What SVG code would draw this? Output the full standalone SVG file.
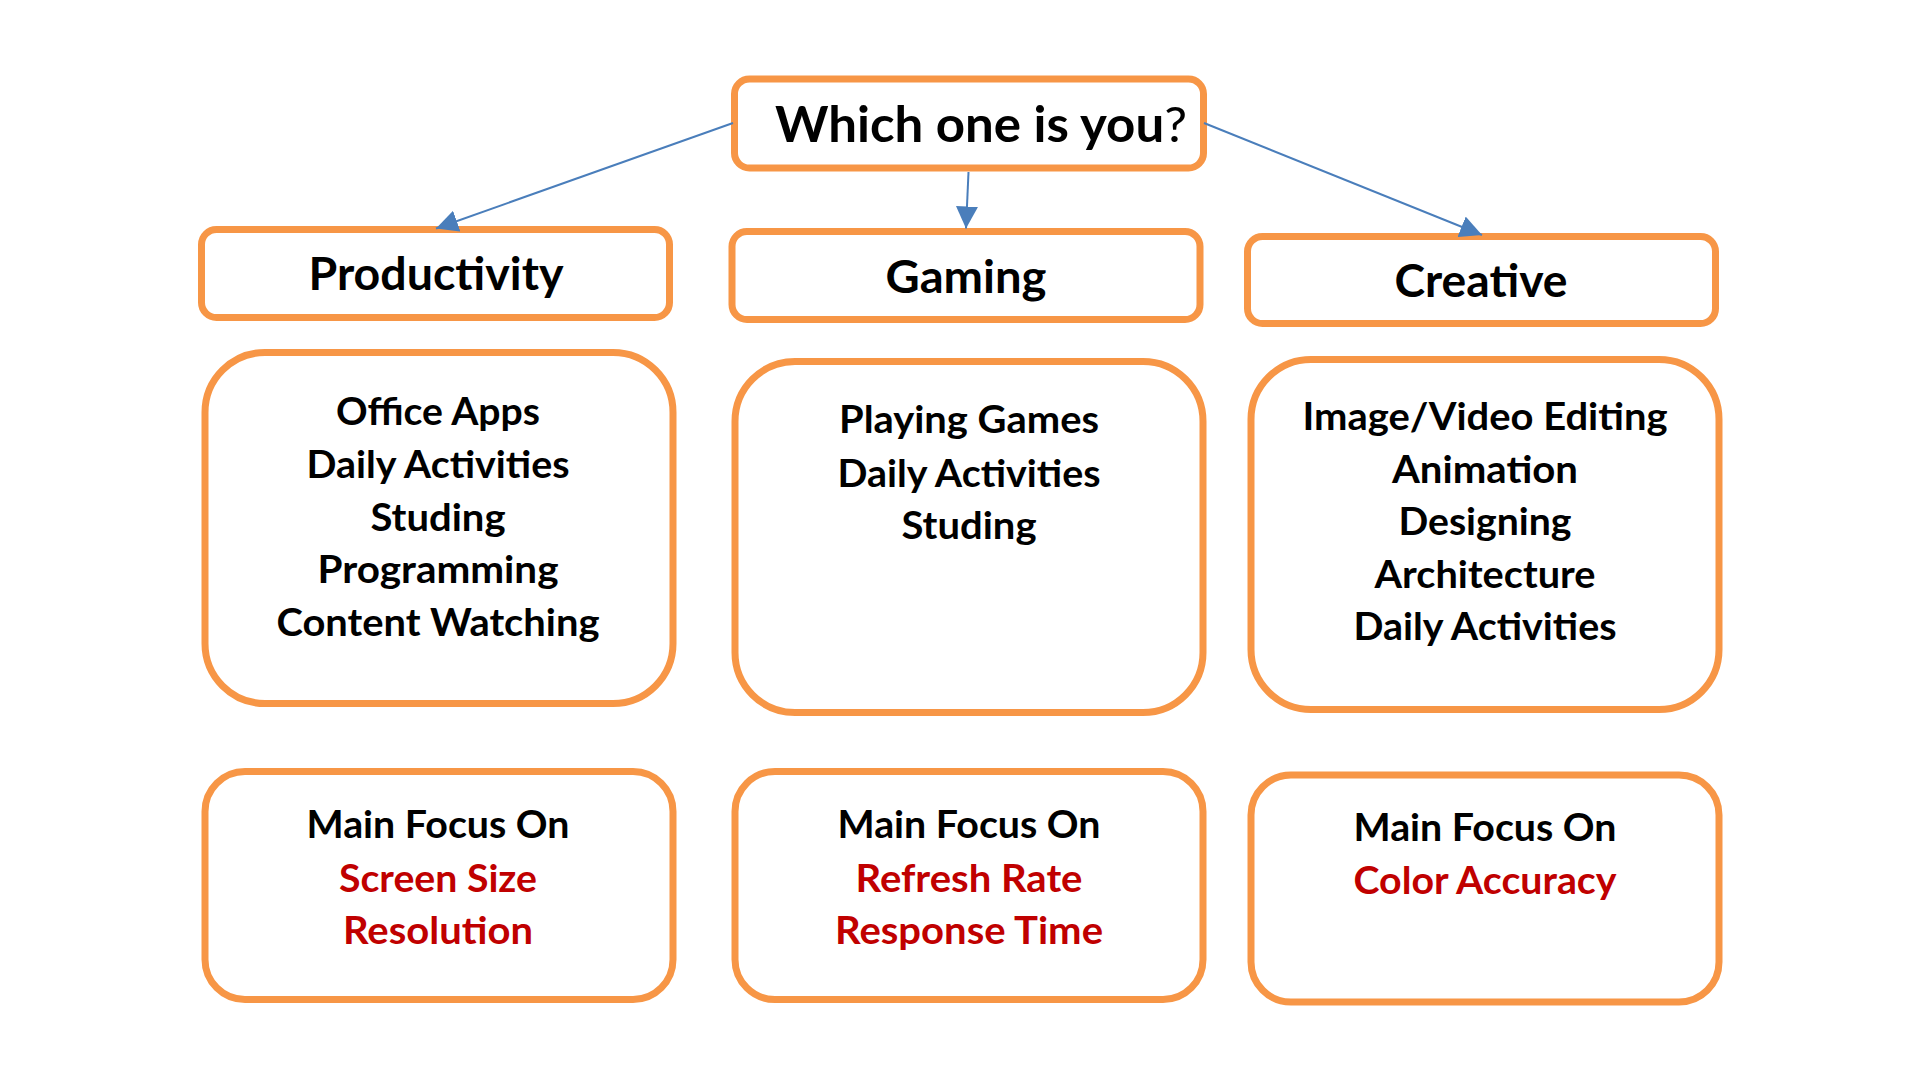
<svg xmlns="http://www.w3.org/2000/svg" width="1920" height="1080" viewBox="0 0 1920 1080">
  <defs>
    <style>
      .box { fill: #FFFFFF; stroke: #F79646; stroke-width: 7; }
      .t { font-family: Lato, "Open Sans", "Liberation Sans", sans-serif; font-weight: bold; fill: #000000; text-anchor: middle; }
      .top { font-size: 49px; }
      .hdr { font-size: 45px; }
      .body { font-size: 38px; }
      .red { fill: #C00000; }
      .conn { stroke: #4A7EBB; stroke-width: 2; fill: none; }
    </style>
    <marker id="arrow" markerUnits="userSpaceOnUse" viewBox="0 0 22 22" refX="22" refY="11" markerWidth="22" markerHeight="22" orient="auto">
      <path d="M0,0 L22,11 L0,22 z" fill="#4A7EBB"/>
    </marker>
  </defs>
  <rect width="1920" height="1080" fill="#FFFFFF"/>

  <g id="node-question">
    <rect class="box" x="734.5" y="79" width="469" height="89" rx="15"/>
    <text class="t top" x="981" y="142" textLength="412" lengthAdjust="spacingAndGlyphs">Which one is you<tspan font-weight="normal">?</tspan></text>
  </g>

  <g id="node-productivity">
    <rect class="box" x="201.5" y="229.5" width="468" height="88" rx="15"/>
    <text class="t hdr" x="436" y="290" textLength="255" lengthAdjust="spacingAndGlyphs">Productivity</text>
  </g>

  <g id="node-gaming">
    <rect class="box" x="732" y="231.5" width="468" height="88" rx="15"/>
    <text class="t hdr" x="966" y="293" textLength="161" lengthAdjust="spacingAndGlyphs">Gaming</text>
  </g>

  <g id="node-creative">
    <rect class="box" x="1247.5" y="236.5" width="468" height="87" rx="15"/>
    <text class="t hdr" x="1481" y="297" textLength="173" lengthAdjust="spacingAndGlyphs">Creative</text>
  </g>

  <g id="node-productivity-uses">
    <rect class="box" x="205" y="352.5" width="468" height="351" rx="60"/>
    <text class="t body" x="438" y="425" textLength="204" lengthAdjust="spacingAndGlyphs">Office Apps</text>
    <text class="t body" x="438" y="478" textLength="263" lengthAdjust="spacingAndGlyphs">Daily Activities</text>
    <text class="t body" x="438" y="531" textLength="135" lengthAdjust="spacingAndGlyphs">Studing</text>
    <text class="t body" x="438" y="583" textLength="241" lengthAdjust="spacingAndGlyphs">Programming</text>
    <text class="t body" x="438" y="636" textLength="323" lengthAdjust="spacingAndGlyphs">Content Watching</text>
  </g>

  <g id="node-gaming-uses">
    <rect class="box" x="735" y="361.5" width="468" height="351" rx="60"/>
    <text class="t body" x="969" y="433" textLength="260" lengthAdjust="spacingAndGlyphs">Playing Games</text>
    <text class="t body" x="969" y="487" textLength="263" lengthAdjust="spacingAndGlyphs">Daily Activities</text>
    <text class="t body" x="969" y="539" textLength="135" lengthAdjust="spacingAndGlyphs">Studing</text>
  </g>

  <g id="node-creative-uses">
    <rect class="box" x="1251" y="359.5" width="468" height="350" rx="60"/>
    <text class="t body" x="1485" y="430" textLength="365" lengthAdjust="spacingAndGlyphs">Image/Video Editing</text>
    <text class="t body" x="1485" y="483" textLength="186" lengthAdjust="spacingAndGlyphs">Animation</text>
    <text class="t body" x="1485" y="535" textLength="173" lengthAdjust="spacingAndGlyphs">Designing</text>
    <text class="t body" x="1485" y="588" textLength="221" lengthAdjust="spacingAndGlyphs">Architecture</text>
    <text class="t body" x="1485" y="640" textLength="263" lengthAdjust="spacingAndGlyphs">Daily Activities</text>
  </g>

  <g id="node-productivity-focus">
    <rect class="box" x="205" y="771.5" width="468" height="228" rx="40"/>
    <text class="t body" x="438" y="838" textLength="263" lengthAdjust="spacingAndGlyphs">Main Focus On</text>
    <text class="t body red" x="438" y="892" textLength="198" lengthAdjust="spacingAndGlyphs">Screen Size</text>
    <text class="t body red" x="438" y="944" textLength="190" lengthAdjust="spacingAndGlyphs">Resolution</text>
  </g>

  <g id="node-gaming-focus">
    <rect class="box" x="735" y="771.5" width="468" height="228" rx="40"/>
    <text class="t body" x="969" y="838" textLength="263" lengthAdjust="spacingAndGlyphs">Main Focus On</text>
    <text class="t body red" x="969" y="892" textLength="227" lengthAdjust="spacingAndGlyphs">Refresh Rate</text>
    <text class="t body red" x="969" y="944" textLength="268" lengthAdjust="spacingAndGlyphs">Response Time</text>
  </g>

  <g id="node-creative-focus">
    <rect class="box" x="1251" y="775" width="468" height="227" rx="40"/>
    <text class="t body" x="1485" y="841" textLength="263" lengthAdjust="spacingAndGlyphs">Main Focus On</text>
    <text class="t body red" x="1485" y="894" textLength="263" lengthAdjust="spacingAndGlyphs">Color Accuracy</text>
  </g>

  <g id="connectors">
    <path class="conn" d="M733,123 L436,228.5" marker-end="url(#arrow)"/>
    <path class="conn" d="M968.5,172 L966,228.5" marker-end="url(#arrow)"/>
    <path class="conn" d="M1204,123 L1482,235" marker-end="url(#arrow)"/>
  </g>
</svg>
